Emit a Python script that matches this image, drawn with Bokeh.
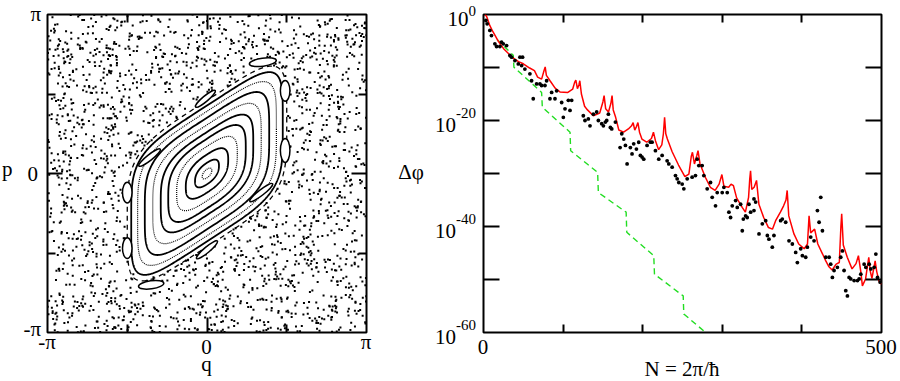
import numpy as np
from bokeh.plotting import figure
from bokeh.models import LinearAxis, LogAxis, FixedTicker, Range1d, Div
from bokeh.layouts import row, column
from bokeh.embed import file_html
from bokeh.resources import INLINE

PI = np.pi

# ---------------- right panel data ----------------
# N = 2*pi/hbar ; values given as log10(delta phi)
red_N = [2, 4, 8, 12, 18, 25, 31, 37, 44, 50, 58, 64, 68, 73, 76, 77.5, 79, 84, 90, 96,
         106, 112, 114.5, 116, 118, 120, 121, 123, 127, 130, 138, 146, 150, 151.5, 153.5, 157,
         160, 161.5, 163, 166, 170, 176, 182, 186, 188, 190, 192, 194, 196, 199, 205, 211,
         213.5, 216, 220, 224, 226, 227.5, 229, 231, 237, 245, 253, 258, 261, 262.5, 265, 268,
         269.5, 272, 279, 285, 291, 296, 299.5, 302, 308, 311, 314, 318, 325, 329, 333, 334.5,
         335.5, 337, 340, 343, 346, 352, 358, 363, 367, 373, 377, 380, 381.5, 383.5, 390, 396,
         403, 407, 409, 411, 416, 420, 426, 430, 434, 438, 443, 447, 449, 450, 452, 457, 463,
         468, 471, 474, 476, 480, 484, 486, 488, 492, 494, 497, 500]
red_log = [0, -0.4, -2.1, -3.3, -4.9, -6.4, -7.3, -8.2, -8.9, -9.3, -10.1, -10.6, -11.8, -12.2,
           -10.6, -9.9, -11.5, -12.6, -13.9, -14.6, -14.7, -14.1, -12.8, -12.4, -14.0, -13.2,
           -12.5, -15.0, -17.3, -17.9, -19.1, -18.6, -16.5, -15.3, -17.8, -18.4, -16.8, -15.3,
           -18.0, -19.4, -21.8, -22.2, -21.6, -21.0, -20.4, -21.8, -21.2, -20.4, -22.2, -23.5,
           -24.1, -23.4, -22.2, -23.8, -25.5, -24.6, -22.5, -19.4, -22.5, -23.5, -25.9, -28.4,
           -30.6, -30.1, -26.8, -26.0, -28.2, -26.6, -25.7, -28.2, -30.8, -32.6, -33.2, -32.0,
           -30.2, -32.4, -32.6, -32.0, -32.3, -34.6, -36.4, -37.3, -34.5, -31.0, -29.5, -33.0,
           -32.6, -31.3, -35.8, -38.3, -40.2, -40.5, -38.9, -37.3, -36.1, -35.0, -33.2, -38.0,
           -41.4, -43.3, -44.2, -43.3, -38.0, -41.2, -40.5, -43.3, -45.2, -46.5, -47.6, -48.2,
           -47.1, -46.8, -40.0, -37.6, -43.5, -45.8, -48.0, -47.0, -45.5, -48.5, -51.2, -49.9,
           -45.8, -48.5, -49.8, -46.5, -48.5, -50.4, -50.9]

dots_N = [3.0, 4.6, 8.0, 10.0, 14.3, 16.4, 20.6, 22.7, 24.8, 29.0, 33.2, 35.3, 39.5, 43.7,
          45.8, 47.9, 49.1, 52.0, 58.3, 60.4, 62.5, 66.7, 70.9, 73.0, 77.2, 79.3, 83.5, 85.6,
          89.8, 91.9, 98.2, 100.3, 102.4, 106.6, 108.7, 110.8, 125.4, 127.5, 131.7, 133.8,
          138.0, 142.2, 144.3, 148.5, 150.6, 153.1, 154.8, 156.9, 159.4, 161.1, 165.7, 171.6,
          173.7, 176.2, 178.3, 180.4, 184.5, 186.6, 188.7, 192.1, 195.0, 197.1, 199.2, 201.3,
          205.5, 209.7, 211.8, 216.0, 220.2, 224.4, 230.7, 232.8, 237.0, 241.2, 243.3, 245.4,
          249.6, 251.7, 255.9, 262.1, 266.3, 268.4, 270.5, 274.7, 276.8, 281.0, 285.2, 287.3,
          291.5, 293.6, 299.9, 302.0, 306.2, 308.3, 310.4, 312.5, 316.7, 318.8, 323.0, 325.1,
          326.4, 329.3, 331.3, 333.5, 335.6, 339.8, 339.8, 341.9, 346.1, 350.3, 354.5, 356.6,
          358.6, 362.8, 364.9, 373.3, 375.4, 379.6, 383.8, 388.0, 392.2, 394.3, 398.5, 400.6,
          404.8, 406.9, 411.1, 415.3, 419.5, 421.6, 423.7, 425.8, 430.0, 434.2, 436.2, 438.3,
          440.4, 444.6, 448.8, 450.9, 453.0, 455.1, 457.2, 459.3, 461.4, 465.6, 469.8, 471.9,
          474.0, 478.2, 480.3, 484.5, 486.6, 490.8, 492.9, 495.0, 498.3]
dots_log = [-1.13, -1.76, -3.0, -3.97, -5.54, -6.04, -6.04, -5.23, -5.54, -5.86, -7.74, -8.06,
            -8.69, -9.32, -8.06, -9.63, -8.06, -10.3, -11.2, -12.5, -15.9, -13.1, -13.1, -13.4,
            -13.4, -12.5, -15.9, -14.7, -15.9, -14.4, -16.6, -19.4, -17.8, -16.2, -18.1, -16.2,
            -19.1, -20.0, -19.7, -21.0, -18.8, -18.4, -20.0, -20.6, -21.0, -20.3, -20.0, -18.8,
            -21.3, -21.6, -20.3, -25.1, -22.5, -23.5, -24.7, -28.2, -25.1, -26.3, -24.4, -25.4,
            -24.1, -26.6, -26.9, -27.3, -24.7, -24.1, -24.1, -25.7, -27.3, -26.6, -27.6, -28.2,
            -28.8, -30.4, -31.0, -31.7, -32.0, -32.9, -31.0, -30.7, -30.4, -27.3, -28.5, -28.5,
            -30.4, -32.9, -31.7, -34.5, -36.1, -33.6, -33.6, -32.6, -33.6, -37.3, -38.3, -36.1,
            -35.1, -36.4, -35.8, -40.8, -38.6, -38.0, -38.3, -35.8, -37.3, -34.8, -37.0, -35.4,
            -41.4, -39.5, -38.9, -41.7, -42.4, -43.9, -41.7, -38.9, -38.6, -39.2, -42.7, -43.3,
            -44.9, -46.8, -44.2, -45.5, -45.8, -43.9, -42.0, -42.7, -37.0, -39.2, -34.5, -40.8,
            -45.8, -45.8, -47.1, -49.6, -48.3, -47.7, -45.8, -44.6, -48.3, -52.1, -53.1, -49.6,
            -49.9, -50.2, -50.2, -49.9, -49.0, -47.1, -47.7, -47.1, -48.0, -47.7, -45.2, -49.6,
            -50.5]

green_N = [17, 37.4, 38.2, 73.0, 73.9, 108.7, 109.5, 143.4, 144.3, 179.2, 180.0, 213.9,
           214.8, 250.9, 251.6, 279.0]
green_log = [-4.7, -7.7, -9.95, -14.7, -17.5, -22.2, -25.7, -29.8, -33.6, -37.3, -41.1,
             -45.5, -49.0, -53.1, -56.5, -60.0]

N_tick_values = [0, 500]                       # labelled N ticks
N_minor_ticks = [100, 200, 300, 400]
y_label_exponents = [0, -20, -40, -60]         # labelled decades: 10^0 ... 10^-60
y_tick_decades = [-10, -20, -30, -40, -50]

# ---------------- left panel data (units of pi) ----------------
torus_halfwidth = [0.03, 0.075, 0.133, 0.19, 0.243, 0.29, 0.34, 0.39, 0.435, 0.475]
torus_roundness = [2.2, 2.4, 2.6, 2.9, 3.2, 3.5, 3.8, 4.1, 4.4, 4.7]
torus_dotted = [True, False, False, True, False, False, True, False, True, False]
torus_tilt = 0.65      # slope of the slanted sides
torus_aspect = 0.9     # slanted half-height / half-width

chain_q = [0.35, 0.49, 0.49, 0.34, 0.00, -0.35, -0.50, -0.50, -0.36, -0.01]
chain_p = [0.70, 0.52, 0.145, -0.12, -0.48, -0.70, -0.47, -0.12, 0.10, 0.47]
chain_len = [0.17, 0.13, 0.15, 0.18, 0.17, 0.16, 0.13, 0.13, 0.17, 0.16]
chain_wid = [0.05, 0.06, 0.06, 0.035, 0.035, 0.05, 0.06, 0.06, 0.035, 0.035]
chain_angle = [8, 90, 90, 38, 40, 8, 90, 90, 38, 40]

chain_curve_halfwidth = 0.50
chain_curve_aspect = 0.92
sea_points = 2500      # length of the chaotic Poincare orbit

qp_tick_values = [-PI, 0.0, PI]
qp_tick_text = ["-π", "0", "π"]

FONT = "'Liberation Serif', 'Times New Roman', serif"

# page geometry (pixels)
TOP_H = 338            # height of the row holding the two plots
BOT_H = 43             # strip under the plots with the x labels
L_FRAME_X, R_FRAME_X, FRAME_TOP, FRAME_W_L, FRAME_W_R, FRAME_H = 47, 483, 14, 319, 398, 318
SL_W = 45              # strip left of the phase-space plot
STRIP_X0, STRIP_W = 385, 92


def torus(a, n, aspect, tilt, m=480):
    t = np.linspace(0, 2 * PI, m)
    c, s = np.cos(t), np.sin(t)
    u = np.sign(c) * np.abs(c) ** (2.0 / n)
    v = np.sign(s) * np.abs(s) ** (2.0 / n)
    q = a * u
    p = tilt * q + aspect * a * v
    return q * PI, p * PI


def tick_axis(kind, minor, length):
    ax = kind(ticker=FixedTicker(ticks=[], minor_ticks=minor))
    ax.axis_line_color = None
    ax.major_label_standoff = 0
    ax.major_tick_out = 0
    ax.major_tick_in = 0
    ax.minor_tick_out = 0
    ax.minor_tick_in = length
    ax.minor_tick_line_width = 2
    ax.minor_tick_line_color = "black"
    return ax


def text_box(x0, y0, w, h, items):
    """HTML box at page position (x0, y0); items = (x, baseline_y, text, size, align)."""
    spans = []
    for (x, yb, txt, size, align) in items:
        lh = int(round(0.72 * size))
        top = yb - y0 - ((lh - 1.107 * size) / 2.0 + 0.891 * size)
        style = ("position:absolute;top:%.1fpx;font-family:%s;font-size:%dpx;"
                 "line-height:%dpx;white-space:nowrap;color:black;" % (top, FONT, size, lh))
        if align == "left":
            style += "left:%.1fpx;" % (x - x0)
        elif align == "right":
            style += "right:%.1fpx;" % (x0 + w - x)
        else:
            style += "left:%.1fpx;transform:translateX(-50%%);" % (x - x0)
        spans.append('<span style="%s">%s</span>' % (style, txt))
    html = ('<div style="position:relative;width:%dpx;height:%dpx;overflow:visible;">%s</div>'
            % (w, h, "".join(spans)))
    return Div(text=html, width=w, height=h, margin=0)


def frame_fig(w, h, xr, yr, left, right, **kw):
    f = figure(width=w, height=h, x_range=xr, y_range=yr, x_axis_location=None,
               y_axis_location=None, min_border_left=left, min_border_right=right,
               min_border_top=FRAME_TOP, min_border_bottom=TOP_H - FRAME_TOP - FRAME_H,
               output_backend="svg", toolbar_location=None, **kw)
    f.grid.visible = False
    f.outline_line_color = "black"
    f.outline_line_width = 2
    f.background_fill_color = "white"
    f.border_fill_color = "white"
    return f


# ---------------- left figure: phase space ----------------
f1 = frame_fig(2 + FRAME_W_L + 19, TOP_H, Range1d(-PI, PI), Range1d(-PI, PI), 2, 19)
for side in ("below", "above", "left", "right"):
    f1.add_layout(tick_axis(LinearAxis, [0.0], 15), side)
    f1.add_layout(tick_axis(LinearAxis, [-PI / 2, PI / 2], 8), side)

# chaotic sea: Poincare orbit of a hyperbolic torus map, outside the regular island
x, y = 0.31415926, 0.27182818
sq, sp = [], []
for i in range(sea_points):
    x, y = (2 * x + y) % 1.0, (x + y) % 1.0
    q = (x - 0.5) * 2.0
    pp = (y - 0.5) * 2.0
    a = chain_curve_halfwidth
    b = chain_curve_aspect * a
    val = abs(q / a) ** 4 + abs((pp - torus_tilt * q) / b) ** 4
    if val > 1.0:
        sq.append(q * PI)
        sp.append(pp * PI)
f1.scatter(sq, sp, marker="square", size=2, fill_color="black", line_color=None)

cq, cp = torus(chain_curve_halfwidth, 4.5, chain_curve_aspect, torus_tilt)
f1.line(cq, cp, line_color="black", line_width=1.3, line_dash="5 4")

for a, n, d in zip(torus_halfwidth, torus_roundness, torus_dotted):
    tq, tp = torus(a, n, torus_aspect, torus_tilt)
    if d:
        f1.line(tq, tp, line_color="black", line_width=1.2, line_dash="1 1")
    else:
        f1.line(tq, tp, line_color="black", line_width=1.8)

f1.ellipse(x=[v * PI for v in chain_q], y=[v * PI for v in chain_p],
           width=[v * PI for v in chain_len], height=[v * PI for v in chain_wid],
           angle=chain_angle, angle_units="deg",
           fill_color="white", line_color="black", line_width=1.5)


def qx(v):   # q value -> page x
    return L_FRAME_X + (v + PI) / (2 * PI) * FRAME_W_L


def py_(v):  # p value -> page y
    return FRAME_TOP + (PI - v) / (2 * PI) * FRAME_H


# labels left of the phase-space plot
p_right = {"-π": 41, "0": 38, "π": 41}
p_shift = {"-π": 5, "0": 9, "π": 8}
items = [(p_right[t], py_(v) + p_shift[t], t, 21, "right")
         for v, t in zip(qp_tick_values, qp_tick_text)]
items.append((2, 177, "p", 21, "left"))
dL = text_box(0, 0, SL_W, TOP_H, items)

# labels under the phase-space plot
q_base = {"-π": 350, "0": 355, "π": 350}
items = [(qx(v), q_base[t], t, 21, "center") for v, t in zip(qp_tick_values, qp_tick_text)]
items.append((qx(0.0), 372, "q", 21, "center"))
dB1 = text_box(0, TOP_H, SL_W + 2 + FRAME_W_L + 19, BOT_H, items)

# labels between the plots: 10^n and the Δφ label
items = []
for e in y_label_exponents:
    ty = FRAME_TOP - e * FRAME_H / 60.0
    et = str(e)
    w_exp = 15.0 * (0.5 * sum(ch.isdigit() for ch in et) + 0.333 * et.count("-"))
    items.append((476 - w_exp, ty + 13, "10", 21, "right"))
    items.append((476, ty + (3 if e == 0 else -1), et, 15, "right"))
items.append((411, 180, "Δφ", 21, "center"))
dR = text_box(STRIP_X0, 0, STRIP_W, TOP_H + BOT_H, items)

# ---------------- right figure: splittings ----------------
R_LEFT_B = R_FRAME_X - (STRIP_X0 + STRIP_W)
f2 = frame_fig(R_LEFT_B + FRAME_W_R + 16, TOP_H, Range1d(0, 500), Range1d(1e-60, 1.0),
               R_LEFT_B, 16, y_axis_type="log")
decades = [10.0 ** d for d in y_tick_decades]
for side in ("below", "above"):
    f2.add_layout(tick_axis(LinearAxis, N_minor_ticks, 8), side)
for side in ("left", "right"):
    f2.add_layout(tick_axis(LogAxis, decades, 16), side)

f2.line(green_N, [10.0 ** v for v in green_log], line_color="#22dd22", line_width=1.4,
        line_dash="6 4")
f2.line(red_N, [10.0 ** v for v in red_log], line_color="#ff0000", line_width=1.5)
f2.scatter(dots_N, [10.0 ** v for v in dots_log], marker="circle", size=3.8,
           fill_color="black", line_color=None)

# labels under the splitting plot
items = [(R_FRAME_X + v / 500.0 * FRAME_W_R, 355, str(v), 21, "center") for v in N_tick_values]
items.append((R_FRAME_X + FRAME_W_R / 2.0, 377, "N = 2π/ħ", 21, "center"))
dB2 = text_box(STRIP_X0 + STRIP_W, TOP_H, R_LEFT_B + FRAME_W_R + 16, BOT_H, items)

layout = row(column(row(dL, f1), dB1), dR, column(f2, dB2))
open("out.html", "w").write(file_html(layout, INLINE))
